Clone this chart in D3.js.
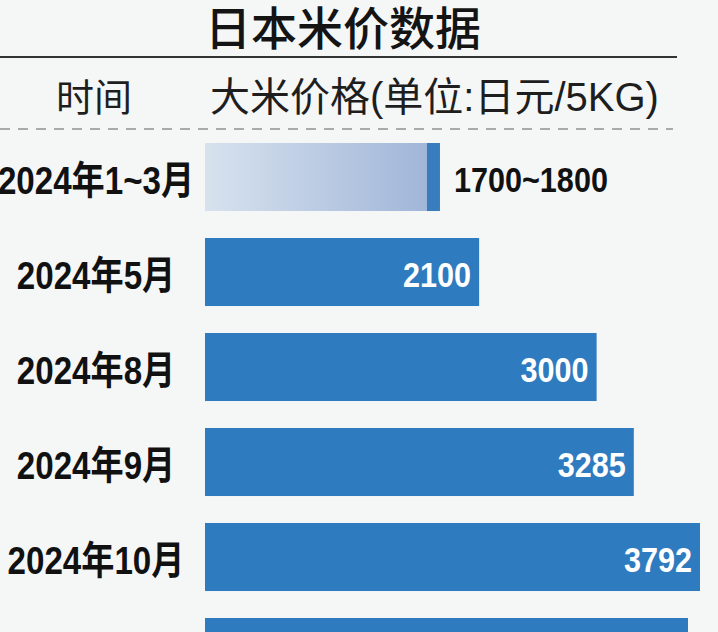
<!DOCTYPE html>
<html>
<head>
<meta charset="utf-8">
<script src="https://cdn.jsdelivr.net/npm/d3@7"></script>
<style>
  body { margin: 0; background: #f5f7f7; }
</style>
</head>
<body>
<div id="container"></div>
<script>
/* DATA */
const categories = ["2024年1~3月", "2024年5月", "2024年8月", "2024年9月", "2024年10月", "2024年11月"];
const prices = [1800, 2100, 3000, 3285, 3792, 3700];
const rangeLow = 1700; // first row is a range 1700~1800
const valueLabels = ["1700~1800", "2100", "3000", "3285", "3792", "3700"];

/* CONSTANTS AND GLOBALS */
const width = 718;
const height = 632;
const barLeft = 205;
const barRight = 700;
const squeeze = 0.85; // the labels use a condensed face, fake it with scaleX

const cjk = `"Noto Sans CJK SC", "Noto Sans CJK JP", sans-serif`;
const sans = `"Liberation Sans", Arial, ${cjk}`;

const svg = d3.select("#container")
  .append("svg")
  .attr("width", width)
  .attr("height", height)

svg.append("rect")
  .attr("width", width)
  .attr("height", height)
  .attr("fill", "#f5f7f7")

/* SCALES */
const xScale = d3.scaleLinear()
  .domain([0, d3.max(prices.slice(0, 5))])
  .range([barLeft, barRight])

const yScale = d3.scaleBand()
  .domain(categories)
  .range([143, 143 + 95 * (categories.length - 0.284)])
  .paddingInner(0.284)
  .paddingOuter(0)
  .align(0)

/* GRADIENT for the first (range) bar */
const grad = svg.append("defs").append("linearGradient")
  .attr("id", "fade")
  .attr("x1", "0%").attr("x2", "100%")
grad.append("stop").attr("offset", "0%").attr("stop-color", "#d7e2ee")
grad.append("stop").attr("offset", "100%").attr("stop-color", "#a1b6d8")

/* TITLE + HEADER */
svg.append("text")
  .attr("x", 343)
  .attr("y", 45)
  .attr("text-anchor", "middle")
  .style("font-family", cjk)
  .style("font-size", "46px")
  .style("font-weight", 500)
  .attr("fill", "#141414")
  .text("日本米价数据")

svg.append("line")
  .attr("x1", 0).attr("x2", 677)
  .attr("y1", 57).attr("y2", 57)
  .attr("stroke", "#333")
  .attr("stroke-width", 2)

svg.append("text")
  .attr("x", 94)
  .attr("y", 111)
  .attr("text-anchor", "middle")
  .style("font-family", sans)
  .style("font-size", "38px")
  .attr("fill", "#1e1e1e")
  .text("时间")

svg.append("text")
  .attr("x", 210)
  .attr("y", 111)
  .style("font-family", sans)
  .style("font-size", "40px")
  .attr("fill", "#1e1e1e")
  .text("大米价格(单位:日元/5KG)")

svg.append("line")
  .attr("x1", 0).attr("x2", 673)
  .attr("y1", 129).attr("y2", 129)
  .attr("stroke", "#a9abab")
  .attr("stroke-width", 2)
  .attr("stroke-dasharray", "10,8")

/* BARS */
const rows = categories.map((c, i) => ({ cat: c, value: prices[i], label: valueLabels[i], i: i }))

svg.selectAll(".bar")
  .data(rows)
  .join("rect")
  .attr("class", "bar")
  .attr("x", xScale(0))
  .attr("y", d => yScale(d.cat))
  .attr("width", d => (d.i === 0 ? xScale(rangeLow) : xScale(d.value)) - xScale(0))
  .attr("height", yScale.bandwidth())
  .attr("fill", d => d.i === 0 ? "url(#fade)" : "#2f7bbf")

// dark cap for the 1700~1800 span
svg.append("rect")
  .attr("x", xScale(rangeLow))
  .attr("y", yScale(categories[0]))
  .attr("width", xScale(prices[0]) - xScale(rangeLow))
  .attr("height", yScale.bandwidth())
  .attr("fill", "#3a7dbf")

/* category labels */
svg.selectAll(".cat")
  .data(rows)
  .join("text")
  .attr("class", "cat")
  .attr("transform", d => `translate(96, ${yScale(d.cat) + yScale.bandwidth() / 2 + 17}) scale(${squeeze}, 1)`)
  .attr("text-anchor", "middle")
  .style("font-family", sans)
  .style("font-size", "39px")
  .style("font-weight", "bold")
  .attr("fill", "#111")
  .text(d => d.cat)

/* value labels */
svg.selectAll(".val")
  .data(rows)
  .join("text")
  .attr("class", "val")
  .attr("transform", d => {
    const x = d.i === 0 ? xScale(d.value) + 14 : xScale(d.value) - 8
    return `translate(${x}, ${yScale(d.cat) + yScale.bandwidth() / 2 + 15}) scale(${squeeze}, 1)`
  })
  .attr("text-anchor", d => d.i === 0 ? "start" : "end")
  .style("font-family", sans)
  .style("font-size", "36px")
  .style("font-weight", "bold")
  .attr("fill", d => d.i === 0 ? "#111" : "#fff")
  .text(d => d.label)
</script>
</body>
</html>
